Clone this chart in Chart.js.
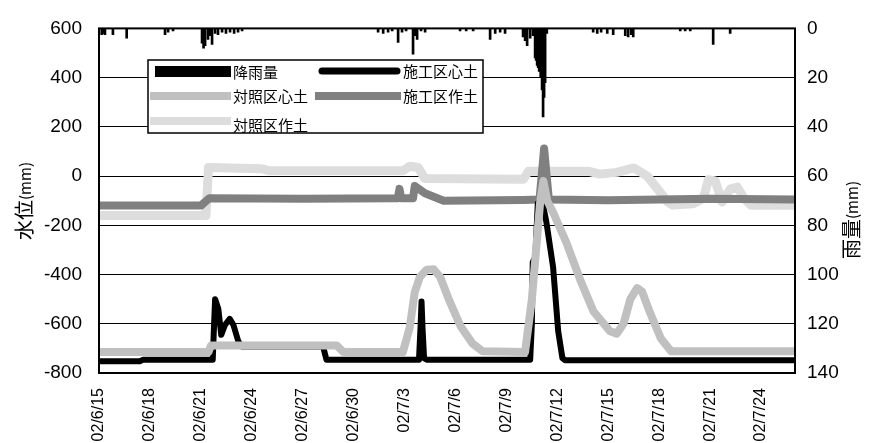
<!DOCTYPE html>
<html>
<head>
<meta charset="utf-8">
<script src="https://cdn.jsdelivr.net/npm/chart.js@4.4.1/dist/chart.umd.min.js"></script>
<style>
  body { margin: 0; background: #fff; }
  #wrap { width: 870px; height: 443px; }
</style>
</head>
<body>
<div id="wrap"><canvas id="myChart" width="870" height="443"></canvas></div>
<script>
// days counted from 02/6/15
const sekoShinDay = [0, 2.4, 2.6, 6.7, 6.78, 6.84, 7.03, 7.2, 7.42, 7.7, 7.92, 8.2, 8.4, 13.2, 13.4, 18.85, 18.95, 19.0, 19.06, 19.15, 19.3, 25.4, 25.5, 25.55, 25.7, 25.85, 26.1, 26.35, 26.75, 27.05, 27.3, 27.45, 41];
const sekoShinVal = [-752, -752, -746, -746, -600, -500, -540, -645, -605, -580, -605, -670, -692, -692, -746, -746, -600, -510, -620, -740, -746, -746, -600, -350, -330, -110, -100, -185, -370, -630, -740, -748, -748];

const taishoShinDay = [0, 6.45, 6.6, 14.0, 14.4, 17.9, 18.3, 18.6, 18.9, 19.3, 19.7, 20.1, 20.6, 21.3, 22.0, 22.6, 25.1, 25.5, 25.99, 26.18, 26.4, 26.77, 27.56, 28.34, 29.13, 30.1, 30.5, 30.9, 31.3, 31.7, 32.0, 32.4, 33.1, 33.7, 41];
const taishoShinVal = [-715, -715, -688, -688, -715, -715, -616, -472, -410, -380, -378, -410, -500, -610, -680, -712, -715, -500, -105, -20, -100, -150, -275, -420, -550, -630, -640, -600, -500, -455, -470, -545, -660, -712, -712];

const sekoSakuDay = [0, 6.0, 6.5, 12.0, 17.6, 17.7, 17.8, 18.5, 18.6, 19.2, 20.3, 25.0, 25.95, 26.22, 26.5, 30.0, 33.0, 36.0, 41];
const sekoSakuVal = [-120, -120, -90, -92, -90, -52, -90, -90, -40, -70, -100, -97, -95, 112, -95, -98, -95, -92, -95];

const taishoSakuDay = [0, 6.3, 6.45, 9.6, 10.0, 17.9, 18.3, 18.8, 19.2, 25.0, 25.3, 28.8, 29.5, 30.5, 31.5, 32.3, 32.9, 33.5, 33.8, 35.0, 35.6, 35.9, 36.3, 36.7, 37.2, 37.6, 38.0, 38.4, 41];
const taishoSakuVal = [-160, -160, 35, 30, 22, 22, 40, 35, -10, -13, 20, 20, 8, 15, 33, 0, -52, -105, -118, -112, -90, -15, -20, -105, -52, -45, -90, -118, -118];

const rainDay = [0.16, 0.24, 0.35, 0.82, 1.63, 3.89, 4.07, 4.36, 6.07, 6.16, 6.25, 6.42, 6.54, 6.66, 6.84, 7.01, 7.25, 7.48, 7.72, 7.96, 8.19, 8.43,
  16.44, 16.74, 17.03, 17.27, 17.62, 17.85, 18.09, 18.5, 18.62, 18.74, 18.97, 19.21,
  21.27, 21.63, 22.04, 23.04, 23.34, 23.63, 23.92, 24.98, 25.1, 25.22, 25.4, 25.57,
  25.69, 25.75, 25.81, 25.87, 25.93, 26.02, 26.1, 26.16, 26.22, 26.28, 26.38,
  29.11, 29.35, 29.58, 29.94, 30.29, 31.0, 31.17, 31.35, 31.47, 34.24, 34.53, 34.83, 36.18, 37.18];
const rainMm = [2.5, 2, 2.5, 2.5, 4, 2.5, 1.5, 1, 6, 8, 7, 4.5, 3, 6.5, 2, 2.5, 1.5, 2, 1.5, 2, 1.5, 1,
  1.5, 2, 1.5, 1, 5.7, 1.5, 1, 10.5, 3, 4.5, 1, 1.5,
  1, 1, 1, 4.5, 2, 1.5, 2, 3.5, 5, 7, 4, 3,
  12, 13, 15, 16, 17.5, 20, 25, 36, 28, 22, 2,
  1.5, 2, 1.5, 2, 2.5, 3, 3.5, 2.5, 3.5, 1, 1, 1, 6.5, 2];

const xTicksStep = 3;

function pts(days, vals) {
  return days.map((d, i) => ({ x: d, y: vals[i] }));
}

function dayLabel(v) {
  const d = new Date(2002, 5, 15 + v);
  return "02/" + (d.getMonth() + 1) + "/" + d.getDate();
}

const cjk = '"Noto Sans CJK JP", "Noto Sans CJK SC", sans-serif';

const extras = {
  id: "extras",
  afterDraw(chart) {
    const ctx = chart.ctx;
    const a = chart.chartArea;
    ctx.save();
    // plot frame
    ctx.strokeStyle = "#000";
    ctx.lineWidth = 2;
    ctx.strokeRect(a.left, a.top, a.right - a.left, a.bottom - a.top);

    // axis titles (both read bottom to top)
    function vTitle(cx, cy, big, small) {
      ctx.save();
      ctx.translate(cx, cy);
      ctx.rotate(-Math.PI / 2);
      ctx.fillStyle = "#000";
      ctx.textBaseline = "middle";
      ctx.font = "20px " + cjk;
      const w1 = ctx.measureText(big).width;
      ctx.font = "15px " + cjk;
      const w2 = ctx.measureText(small).width;
      let x = -(w1 + w2) / 2;
      ctx.textAlign = "left";
      ctx.font = "20px " + cjk;
      ctx.fillText(big, x, 0);
      ctx.font = "15px " + cjk;
      ctx.fillText(small, x + w1, 1);
      ctx.restore();
    }
    vTitle(24, 201, "水位", "(mm)");
    vTitle(851, 220, "雨量", "(mm)");

    // legend box
    ctx.fillStyle = "#fff";
    ctx.fillRect(148, 60, 335, 73);
    ctx.lineWidth = 1.5;
    ctx.strokeStyle = "#000";
    ctx.strokeRect(148, 60, 335, 73);

    const items = [
      { label: "降雨量", x: 155, y: 72, kind: "box", color: "#000" },
      { label: "施工区心土", x: 318, y: 71, kind: "round", color: "#000", w: 7 },
      { label: "対照区心土", x: 150, y: 96, kind: "line", color: "#c0c0c0", w: 8 },
      { label: "施工区作土", x: 315, y: 96, kind: "line", color: "#808080", w: 8 },
      { label: "対照区作土", x: 150, y: 121, kind: "line", color: "#dddddd", w: 8 },
    ];
    items.forEach(it => {
      const x2 = it.x < 250 ? 231 : 401;
      if (it.kind === "box") {
        ctx.fillStyle = it.color;
        ctx.fillRect(it.x, it.y - 6, x2 - it.x, 11);
      } else {
        ctx.beginPath();
        ctx.strokeStyle = it.color;
        ctx.lineWidth = it.w;
        ctx.lineCap = it.kind === "round" ? "round" : "butt";
        ctx.moveTo(it.x + (it.kind === "round" ? 4 : 0), it.y);
        ctx.lineTo(x2 - (it.kind === "round" ? 4 : 0), it.y);
        ctx.stroke();
      }
      ctx.fillStyle = "#000";
      ctx.font = "15px " + cjk;
      ctx.textAlign = "left";
      ctx.textBaseline = "middle";
      ctx.fillText(it.label, x2 + 2, it.y + (it.y > 110 ? 4 : 0));
    });
    ctx.restore();
  },
};

const lineStyle = {
  type: "line",
  yAxisID: "y",
  pointRadius: 0,
  tension: 0,
  fill: false,
  borderJoinStyle: "round",
};

config = {
  type: "line",
  data: {
    datasets: [
      {
        type: "bar",
        label: "降雨量",
        data: pts(rainDay, rainMm),
        yAxisID: "y2",
        backgroundColor: "#000",
        barThickness: 2,
        order: 0,
      },
      Object.assign({}, lineStyle, {
        label: "対照区心土",
        data: pts(taishoShinDay, taishoShinVal),
        borderColor: "#c0c0c0",
        borderWidth: 8,
        order: 1,
      }),
      Object.assign({}, lineStyle, {
        label: "施工区心土",
        data: pts(sekoShinDay, sekoShinVal),
        borderColor: "#000",
        borderWidth: 6,
        order: 2,
      }),
      Object.assign({}, lineStyle, {
        label: "施工区作土",
        data: pts(sekoSakuDay, sekoSakuVal),
        borderColor: "#808080",
        borderWidth: 8,
        order: 3,
      }),
      Object.assign({}, lineStyle, {
        label: "対照区作土",
        data: pts(taishoSakuDay, taishoSakuVal),
        borderColor: "#dddddd",
        borderWidth: 9,
        order: 4,
      }),
    ],
  },
  options: {
    responsive: false,
    animation: false,
    devicePixelRatio: 1,
    layout: { padding: { top: 18, left: 0, right: 0, bottom: 0 } },
    plugins: { legend: { display: false }, tooltip: { enabled: false } },
    scales: {
      x: {
        type: "linear",
        min: 0,
        max: 41,
        offset: false,
        grid: { display: false, offset: false },
        border: { display: false },
        afterFit: s => { s.height = 70; },
        ticks: {
          stepSize: xTicksStep,
          includeBounds: false,
          autoSkip: false,
          minRotation: 90,
          maxRotation: 90,
          padding: 7,
          color: "#000",
          font: { family: "Liberation Sans", size: 16 },
          callback: v => dayLabel(v),
        },
      },
      y: {
        position: "left",
        min: -800,
        max: 600,
        grid: { color: "#000", lineWidth: 1, drawTicks: false },
        border: { display: false },
        afterFit: s => { s.width = 99; },
        ticks: {
          stepSize: 200,
          padding: 17,
          color: "#000",
          font: { family: "Liberation Sans", size: 19 },
        },
      },
      y2: {
        position: "right",
        min: 0,
        max: 140,
        reverse: true,
        grid: { display: false, drawTicks: false },
        border: { display: false },
        afterFit: s => { s.width = 75; },
        ticks: {
          stepSize: 20,
          padding: 12,
          color: "#000",
          font: { family: "Liberation Sans", size: 19 },
        },
      },
    },
  },
  plugins: [extras],
};

myChart = new Chart(document.getElementById("myChart"), config);
</script>
</body>
</html>
